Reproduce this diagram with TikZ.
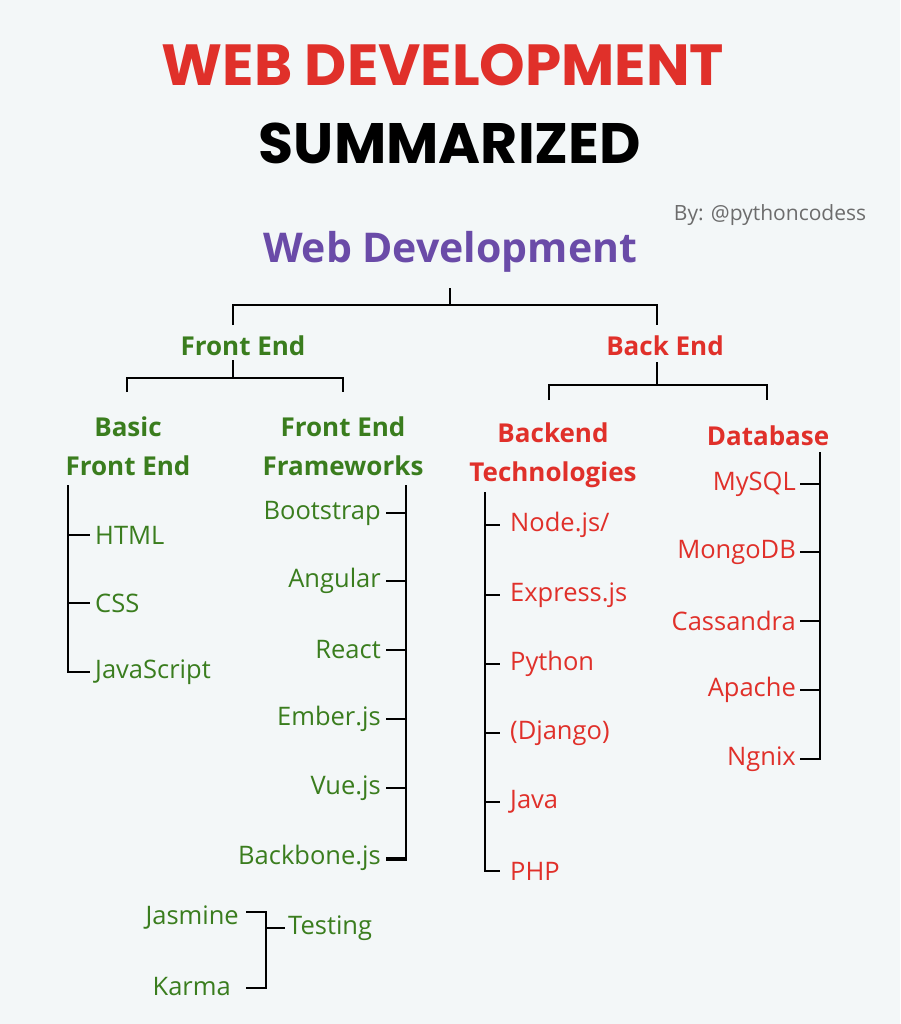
\documentclass[tikz,border=0pt]{standalone}
\usepackage{fontspec}
\setmainfont{Open Sans}
\newfontfamily\titlefont{Poppins}
\definecolor{bg}{HTML}{F3F7F8}
\definecolor{tred}{HTML}{E0302A}
\definecolor{tgreen}{HTML}{3A7D1E}
\definecolor{tpurple}{HTML}{6A4BA8}
\begin{document}
\begin{tikzpicture}[x=1pt,y=-1pt,
  ln/.style={line width=2pt,black},
  item/.style={font=\fontsize{25.5}{28}\selectfont,inner sep=0pt},
  gi/.style={item,text=tgreen},
  ri/.style={item,text=tred},
  hd/.style={font=\fontsize{26}{39}\selectfont\bfseries,align=center,inner sep=0pt}]
\fill[bg] (0,0) rectangle (900,1024);
\useasboundingbox (0,0) rectangle (900,1024);
\node[font=\titlefont\fontsize{58}{60}\selectfont\bfseries,text=tred] (t1) at (443,65) {WEB DEVELOPMENT};
\node[font=\titlefont\fontsize{57}{60}\selectfont\bfseries] (t2) at (450,143) {SUMMARIZED};
\node[font=\fontsize{21}{24}\selectfont,text=gray!85!black] (by) at (770,215) {By: @pythoncodess};
\node[font=\fontsize{41}{46}\selectfont\bfseries,text=tpurple] (wd) at (450,252) {Web Development};
\draw[ln] (450,288) -- (450,305) (233,325) -- (233,305) -- (657,305) -- (657,325);
\node[hd,text=tgreen] (fe) at (243,346) {Front End};
\node[hd,text=tred] (be) at (665,346) {Back End};
% front end
\draw[ln] (233,360) -- (233,378) (127,392) -- (127,378) -- (343,378) -- (343,392);
\node[hd,text=tgreen] (bfe) at (128,446) {Basic\\Front End};
\node[hd,text=tgreen] (ffw) at (343,446) {Front End\\Frameworks};
\draw[ln] (68,485) -- (68,672) -- (90,672) (68,535) -- (90,535) (68,603) -- (90,603);
\node[gi,anchor=west] (html) at (95,535) {HTML};
\node[gi,anchor=west] (css) at (95,603) {CSS};
\node[gi,anchor=west] (js) at (95,672) {JavaScript};
\draw[ln] (406,485) -- (406,860) -- (386,860);
\foreach \y/\t in {513/Bootstrap,581/Angular,650/React,719/Ember.js,788/Vue.js,858/Backbone.js}{
  \draw[ln] (386,\y) -- (406,\y);
  \node[gi,anchor=east] at (381,\y) {\t};}
\draw[ln] (246,912) -- (266,912) -- (266,988) -- (246,988) (266,928) -- (285,928);
\node[gi,anchor=east] (jas) at (239,918) {Jasmine};
\node[gi,anchor=east] (kar) at (231,987) {Karma};
\node[gi,anchor=west] (tst) at (288,928) {Testing};
% back end
\draw[ln] (657,362) -- (657,385) (549,400) -- (549,385) -- (767,385) -- (767,400);
\node[hd,text=tred] (bt) at (553,455) {Backend\\Technologies};
\node[hd,text=tred] (db) at (768,436) {Database};
\draw[ln] (485,492) -- (485,871) -- (500,871);
\foreach \y/\t in {525/{Node.js/},595/Express.js,664/Python,733/(Django),802/Java,871/PHP}{
  \draw[ln] (485,\y) -- (500,\y);
  \node[ri,anchor=west] at (510,\y) {\t};}
\draw[ln] (820,452) -- (820,759) -- (800,759);
\foreach \y/\t in {484/MySQL,552/MongoDB,621/Cassandra,690/Apache,759/Ngnix}{
  \draw[ln] (800,\y) -- (820,\y);
  \node[ri,anchor=east] at (796,\y) {\t};}
\end{tikzpicture}
\end{document}
